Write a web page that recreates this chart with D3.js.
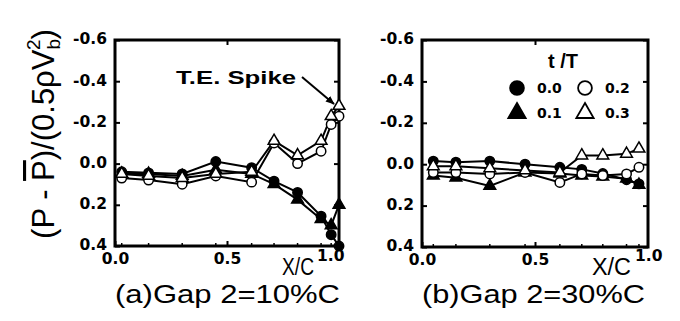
<!DOCTYPE html>
<html>
<head>
<meta charset="utf-8">
<script src="https://cdn.jsdelivr.net/npm/d3@7"></script>
<style>
  body { margin: 0; background: #fff; }
  svg { display: block; }
  .tick-lbl { font-family: "DejaVu Sans", sans-serif; font-weight: bold; font-size: 15.5px; fill: #000; }
</style>
</head>
<body>
<div id="chart"></div>
<script>
// t/T phases shown in both panels
const phases = ["0.0", "0.1", "0.2", "0.3"];

// (a) Gap 2 = 10%C  -- stations along the chord and Cp per phase
const gapA_x = [0.03, 0.15, 0.30, 0.45, 0.61, 0.71, 0.815, 0.92, 0.965, 1.0];
const gapA_t00 = [0.04, 0.045, 0.05, -0.01, 0.02, 0.085, 0.14, 0.255, 0.345, 0.40];
const gapA_t01 = [0.05, 0.05, 0.06, 0.03, 0.05, 0.10, 0.175, 0.27, 0.30, 0.20];
const gapA_t02 = [0.07, 0.08, 0.10, 0.06, 0.09, -0.10, 0.0, -0.06, -0.19, -0.23];
const gapA_t03 = [0.05, 0.06, 0.07, 0.05, 0.04, -0.11, -0.04, -0.11, -0.23, -0.28];

// (b) Gap 2 = 30%C
const gapB_x = [0.05, 0.15, 0.30, 0.456, 0.61, 0.707, 0.80, 0.905, 0.96];
const gapB_t00 = [-0.015, -0.01, -0.015, 0.0, 0.015, 0.025, 0.045, 0.075, 0.095];
const gapB_t01 = [0.055, 0.065, 0.105, 0.04, 0.045, 0.055, 0.06, 0.07, 0.10];
const gapB_t02 = [0.04, 0.04, 0.047, 0.04, 0.088, 0.047, 0.055, 0.047, 0.015];
const gapB_t03 = [0.01, 0.01, 0.02, 0.03, 0.04, -0.042, -0.042, -0.05, -0.075];

// axis ticks
const yTicks = [-0.6, -0.4, -0.2, 0.0, 0.2, 0.4];
const yTickLabels = ["-0.6", "-0.4", "-0.2", "0.0", "0.2", "0.4"];
const xTicks = [0.0, 0.5];
const xTickLabels = ["0.0", "0.5"];

const width = 680, height = 321;
const svg = d3.select("#chart").append("svg")
    .attr("width", width)
    .attr("height", height);

// arrow head for the T.E. spike note
svg.append("defs").append("marker")
    .attr("id", "arrow")
    .attr("viewBox", "0 0 10 10")
    .attr("refX", 9).attr("refY", 5)
    .attr("markerWidth", 9).attr("markerHeight", 9)
    .attr("markerUnits", "userSpaceOnUse")
    .attr("orient", "auto")
    .append("path")
    .attr("d", "M0,1 L10,5 L0,9 z")
    .attr("fill", "#000");

// marker style per phase: filled circle, filled triangle, open circle, open triangle
const markerStyle = {
    "0.0": { shape: d3.symbolCircle, fill: "#000" },
    "0.1": { shape: d3.symbolTriangle, fill: "#000" },
    "0.2": { shape: d3.symbolCircle, fill: "#fff" },
    "0.3": { shape: d3.symbolTriangle, fill: "#fff" },
};

const panels = [
    {
        left: 115, right: 339, top: 40, bottom: 246,
        x: gapA_x,
        series: { "0.0": gapA_t00, "0.1": gapA_t01, "0.2": gapA_t02, "0.3": gapA_t03 },
        caption: "(a)Gap 2=10%C", captionLen: 225,
        xcX: 282, xcLen: 32, oneX: 317,
    },
    {
        left: 422, right: 648, top: 40, bottom: 247,
        x: gapB_x,
        series: { "0.0": gapB_t00, "0.1": gapB_t01, "0.2": gapB_t02, "0.3": gapB_t03 },
        caption: "(b)Gap 2=30%C", captionLen: 223,
        xcX: 592, xcLen: 39, oneX: 635,
    },
];

panels.forEach((p) => {
    const xScale = d3.scaleLinear().domain([0, 1]).range([p.left, p.right]);
    const yScale = d3.scaleLinear().domain([-0.6, 0.4]).range([p.top, p.bottom]);
    const g = svg.append("g");

    // left axis with inward ticks
    const yAxisL = g.append("g")
        .attr("transform", `translate(${p.left},0)`)
        .call(d3.axisLeft(yScale).tickValues(yTicks)
            .tickFormat((d, i) => yTickLabels[i])
            .tickSizeInner(-5).tickSizeOuter(0).tickPadding(8));
    yAxisL.select(".domain").remove();
    yAxisL.selectAll("line").attr("stroke-width", 2);
    yAxisL.selectAll("text").attr("class", "tick-lbl").attr("dy", "0.25em");

    // right axis ticks only
    const yAxisR = g.append("g")
        .attr("transform", `translate(${p.right},0)`)
        .call(d3.axisRight(yScale).tickValues(yTicks)
            .tickFormat("").tickSizeInner(-5).tickSizeOuter(0));
    yAxisR.select(".domain").remove();
    yAxisR.selectAll("line").attr("stroke-width", 2);

    // bottom axis
    const xAxisB = g.append("g")
        .attr("transform", `translate(0,${p.bottom})`)
        .call(d3.axisBottom(xScale).tickValues(xTicks)
            .tickFormat((d, i) => xTickLabels[i])
            .tickSizeInner(-5).tickSizeOuter(0).tickPadding(5));
    xAxisB.select(".domain").remove();
    xAxisB.selectAll("line").attr("stroke-width", 2);
    xAxisB.selectAll("text").attr("class", "tick-lbl").attr("dy", "0.85em");

    // station marks along the bottom edge
    g.selectAll(".station").data(p.x).enter().append("line")
        .attr("x1", (d) => xScale(d)).attr("x2", (d) => xScale(d))
        .attr("y1", p.bottom).attr("y2", p.bottom - 3)
        .attr("stroke", "#000").attr("stroke-width", 1.5);

    // top axis ticks
    const xAxisT = g.append("g")
        .attr("transform", `translate(0,${p.top})`)
        .call(d3.axisTop(xScale).tickValues([0.5]).tickFormat("")
            .tickSizeInner(-5).tickSizeOuter(0));
    xAxisT.select(".domain").remove();
    xAxisT.selectAll("line").attr("stroke-width", 2);

    // frame
    g.append("rect")
        .attr("x", p.left).attr("y", p.top)
        .attr("width", p.right - p.left).attr("height", p.bottom - p.top)
        .attr("fill", "none").attr("stroke", "#000").attr("stroke-width", 3);

    // X/C with the 1.0 tick as a superscript
    g.append("text")
        .attr("x", p.xcX).attr("y", 275)
        .attr("textLength", p.xcLen).attr("lengthAdjust", "spacingAndGlyphs")
        .style("font-family", "'Liberation Sans', Arial, sans-serif")
        .style("font-size", "23px")
        .text("X/C");
    g.append("text")
        .attr("class", "tick-lbl")
        .attr("x", p.oneX).attr("y", 261)
        .text("1.0");

    // lines
    const line = d3.line().x((d) => xScale(d[0])).y((d) => yScale(d[1]));
    phases.forEach((k) => {
        const pts = p.x.map((x, i) => [x, p.series[k][i]]);
        g.append("path")
            .attr("d", line(pts))
            .attr("fill", "none").attr("stroke", "#000").attr("stroke-width", 2);
    });

    // markers
    phases.forEach((k) => {
        const st = markerStyle[k];
        const sym = d3.symbol().type(st.shape).size(st.shape === d3.symbolCircle ? 70 : 60);
        g.selectAll(null).data(p.x.map((x, i) => [x, p.series[k][i]])).enter()
            .append("path")
            .attr("d", sym)
            .attr("transform", (d) => `translate(${xScale(d[0])},${yScale(d[1])})`)
            .attr("fill", st.fill).attr("stroke", "#000").attr("stroke-width", 1.5);
    });

    // caption
    g.append("text")
        .attr("x", p.left).attr("y", 303)
        .attr("textLength", p.captionLen).attr("lengthAdjust", "spacingAndGlyphs")
        .style("font-family", "'Liberation Sans', Arial, sans-serif")
        .style("font-size", "26px")
        .text(p.caption);
});

// y axis title
const title = svg.append("text")
    .attr("transform", "translate(54,134) rotate(-90)")
    .attr("text-anchor", "middle")
    .style("font-family", "'Liberation Sans', Arial, sans-serif")
    .style("font-size", "31px");
title.append("tspan").text("(P - ");
title.append("tspan").style("text-decoration", "overline").text("P");
title.append("tspan").text(")/(0.5ρV");
title.append("tspan").style("font-size", "19px").attr("dy", 6).text("b");
title.append("tspan").style("font-size", "19px").attr("dx", -11).attr("dy", -20).text("2");
title.append("tspan").attr("dy", 14).text(")");

// T.E. spike annotation (panel a)
svg.append("text")
    .attr("x", 176).attr("y", 84)
    .attr("textLength", 120).attr("lengthAdjust", "spacingAndGlyphs")
    .style("font-family", "'Liberation Sans', Arial, sans-serif")
    .style("font-weight", "bold").style("font-size", "19px")
    .text("T.E. Spike");
svg.append("line")
    .attr("x1", 302).attr("y1", 77).attr("x2", 334).attr("y2", 104)
    .attr("stroke", "#000").attr("stroke-width", 2)
    .attr("marker-end", "url(#arrow)");

// legend (panel b)
const legend = svg.append("g");
legend.append("text")
    .attr("x", 563).attr("y", 68).attr("text-anchor", "middle")
    .style("font-family", "'Liberation Sans', Arial, sans-serif")
    .style("font-weight", "bold").style("font-size", "20px")
    .text("t /T");
const legendPos = {
    "0.0": [517, 88], "0.2": [585, 88],
    "0.1": [517, 113], "0.3": [585, 113],
};
phases.forEach((k) => {
    const st = markerStyle[k];
    const [lx, ly] = legendPos[k];
    legend.append("path")
        .attr("d", d3.symbol().type(st.shape).size(st.shape === d3.symbolCircle ? 150 : 130)())
        .attr("transform", `translate(${lx},${ly})`)
        .attr("fill", st.fill).attr("stroke", "#000").attr("stroke-width", 1.8);
    legend.append("text")
        .attr("class", "tick-lbl")
        .attr("x", lx + 20).attr("y", ly + 5)
        .style("font-size", "14px")
        .text(k);
});
</script>
</body>
</html>
